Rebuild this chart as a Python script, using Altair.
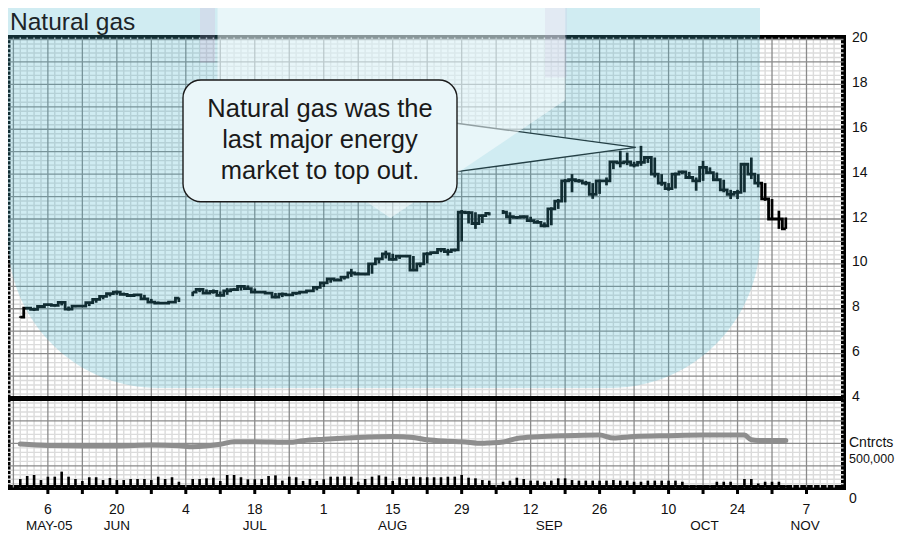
import altair as alt
import pandas as pd
import numpy as np

# ----------------------------- data -----------------------------
HOLIDAYS = ["2005-07-04", "2005-09-05"]
trade_dates = [d for d in pd.bdate_range("2005-05-31", "2005-11-02")
               if d.strftime("%Y-%m-%d") not in HOLIDAYS]

close = [
    7.63, 8.03, 7.97, 8.10,
    8.18, 8.15, 8.28, 7.98, 8.12,
    8.12, 8.27, 8.42, 8.55, 8.67,
    8.74, 8.64, 8.59, 8.62, 8.44,
    8.30, 8.25, 8.25, 8.30, 8.47,
    8.74, 8.86, 8.70, 8.77,
    8.60, 8.80, 8.85, 9.00, 8.90,
    8.74, 8.74, 8.70, 8.52, 8.65,
    8.62, 8.70, 8.74, 8.80, 8.95,
    9.15, 9.33, 9.28, 9.41, 9.60,
    9.55, 9.55, 10.00, 10.22, 10.45,
    10.20, 10.35, 10.35, 9.72, 10.00,
    10.45, 10.50, 10.65, 10.55, 10.62,
    12.30, 12.28, 11.80, 12.15, 12.25,
    12.30, 12.10, 12.07, 12.10,
    11.93, 11.85, 11.70, 12.45, 12.80,
    13.70, 13.75, 13.70, 13.60, 13.10,
    13.70, 13.70, 14.55, 14.50, 14.55,
    14.40, 14.52, 14.74, 14.00, 13.60,
    13.35, 14.00, 14.10, 13.85, 13.70,
    14.30, 14.07, 13.75, 13.30, 13.10,
    13.19, 14.44, 14.00, 13.60, 12.90,
    12.00, 12.00, 11.56,
]
low = [
    7.60, 7.98, 7.90, 8.05,
    8.13, 8.10, 8.15, 7.92, 8.07,
    8.08, 8.12, 8.27, 8.42, 8.55,
    8.62, 8.60, 8.55, 8.57, 8.40,
    8.26, 8.22, 8.22, 8.26, 8.30,
    8.56, 8.74, 8.67, 8.67,
    8.56, 8.62, 8.80, 8.81, 8.86,
    8.70, 8.70, 8.66, 8.47, 8.52,
    8.57, 8.62, 8.70, 8.76, 8.82,
    8.97, 9.16, 9.26, 9.30, 9.42,
    9.51, 9.50, 9.56, 10.02, 10.24,
    10.15, 10.22, 10.30, 9.70, 9.85,
    10.02, 10.44, 10.52, 10.37, 10.55,
    11.00, 11.80, 11.56, 11.82, 12.16,
    12.22, 11.78, 12.00, 12.02,
    11.86, 11.80, 11.63, 11.72, 12.45,
    12.74, 13.19, 13.62, 13.50, 12.90,
    13.12, 13.50, 14.22, 14.30, 14.40,
    14.30, 14.37, 14.50, 13.85, 13.48,
    13.26, 13.36, 14.00, 13.78, 13.26,
    13.70, 14.03, 13.70, 13.19, 12.89,
    12.89, 13.19, 13.78, 13.41, 12.81,
    12.00, 11.56, 11.56,
]
high = [
    7.66, 8.06, 8.05, 8.12,
    8.21, 8.20, 8.32, 8.10, 8.14,
    8.15, 8.28, 8.43, 8.56, 8.68,
    8.81, 8.72, 8.63, 8.64, 8.62,
    8.44, 8.32, 8.28, 8.32, 8.50,
    8.76, 8.88, 8.86, 8.86,
    8.77, 8.92, 8.92, 9.04, 9.04,
    8.90, 8.77, 8.74, 8.70, 8.72,
    8.66, 8.72, 8.76, 8.82, 8.97,
    9.16, 9.35, 9.35, 9.43, 9.78,
    9.62, 9.58, 10.02, 10.24, 10.59,
    10.45, 10.40, 10.40, 10.35, 10.05,
    10.52, 10.55, 10.67, 10.67, 10.67,
    12.40, 12.35, 12.30, 12.20, 12.30,
    12.40, 12.30, 12.12, 12.15,
    12.10, 11.95, 11.85, 12.52, 12.89,
    13.78, 14.00, 13.78, 13.70, 13.60,
    13.75, 13.85, 14.59, 15.04, 14.96,
    14.55, 15.26, 14.80, 14.74, 14.00,
    13.60, 14.07, 14.15, 14.10, 13.85,
    14.59, 14.30, 14.07, 13.75, 13.30,
    13.30, 14.44, 14.74, 14.00, 13.60,
    12.89, 12.37, 12.07,
]
# daily volume, thousands of contracts
volume_k = [
    94, 128, 139, 83,
    120, 120, 176, 120, 94,
    72, 114, 114, 83, 106,
    83, 83, 94, 94, 94,
    83, 120, 94, 114, 64,
    94, 94, 102, 109,
    72, 139, 139, 114, 91,
    91, 94, 128, 135, 76,
    120, 114, 72, 94, 72,
    91, 120, 120, 123, 120,
    64, 94, 120, 135, 120,
    72, 114, 94, 120, 114,
    114, 114, 114, 120, 120,
    139, 109, 102, 83, 76,
    64, 76, 109, 94,
    76, 76, 64, 76, 102,
    102, 83, 76, 76, 76,
    76, 76, 83, 76, 76,
    64, 64, 76, 76, 76,
    76, 76, 64, 25, 25,
    25, 25, 64, 64, 64,
    25, 94, 94, 45, 64,
    64, 64, 25,
]
# open interest, thousands of contracts
oi_dates = ["2005-05-31", "2005-06-06", "2005-06-13", "2005-06-20", "2005-06-27",
            "2005-07-01", "2005-07-05", "2005-07-11", "2005-07-13", "2005-07-18",
            "2005-07-25", "2005-07-27", "2005-08-01", "2005-08-08", "2005-08-15",
            "2005-08-18", "2005-08-22", "2005-08-25", "2005-08-29", "2005-09-01",
            "2005-09-02", "2005-09-06", "2005-09-08", "2005-09-13", "2005-09-19",
            "2005-09-26", "2005-09-28", "2005-10-03", "2005-10-10", "2005-10-17",
            "2005-10-24", "2005-10-25", "2005-10-26", "2005-10-27", "2005-11-02"]
oi_k = [483, 466, 461, 461, 472, 464, 453, 480, 509, 509,
        502, 520, 536, 556, 566, 556, 530, 515, 509, 491,
        495, 505, 545, 564, 576, 583, 550, 566, 576, 583,
        583, 583, 530, 522, 522]

price_ticks = [4, 6, 8, 10, 12, 14, 16, 18, 20]
week_dates = pd.date_range("2005-06-06", "2005-11-07", freq="7D")   # Monday ticks
month_labels = ["MAY-05", "JUN", "JUL", "AUG", "SEP", "OCT", "NOV"]
month_pos = [0.2, 10, 30, 50, 72.7, 95.2, 109.8]   # in trading-day slots
title_text = "Natural gas"
callout_text = "Natural gas was the\nlast major energy\nmarket to top out."

# callout tail: base on the bubble edge, tip at the early-October high (slot, price)
tail_s = [59.0, 85.24]
tail_top = [16.28, 15.19]
tail_bot = [14.10, 15.19]
# watermark arrow (slot, price)
arrow_s = [24.6, 49.67, 75.03]
arrow_top = [21.4, 21.4, 21.4]
arrow_bot = [17.30, 12.04, 17.30]

# ------------------------- helpers / layout -------------------------
BASE = pd.Timestamp("2005-06-06")


def slot(d):
    d = pd.Timestamp(d)
    return (d - BASE).days // 7 * 5 + d.weekday()


df = pd.DataFrame({"date": trade_dates, "close": close, "low": low,
                   "high": high, "vol": volume_k})
df["s"] = df["date"].map(slot)
df["seg"] = (df["date"] > pd.Timestamp(HOLIDAYS[0])).astype(int) + \
            (df["date"] > pd.Timestamp(HOLIDAYS[1])).astype(int)
df["date"] = df["date"].dt.strftime("%Y-%m-%d")

oi_df = pd.DataFrame({"s": [slot(d) for d in oi_dates], "oi": oi_k})

ticks_df = pd.DataFrame({"s": [slot(d) for d in week_dates],
                         "lbl": [str(d.day) if i % 2 == 0 else "" for i, d in enumerate(week_dates)]})

W, H = 835.5, 450
SANS = "Liberation Sans, Arial, sans-serif"

X_SCALE = alt.Scale(domain=[-5.057, 114.64], nice=False, zero=False)
Y_SCALE = alt.Scale(domain=[0.034, 20.089], nice=False, zero=False)
C_SCALE = alt.Scale(domain=[0, 5000], nice=False, zero=False)

Y_AXIS = alt.Axis(orient="right", values=price_ticks, domain=False, ticks=False,
                  tickSize=0, labelPadding=8, labelFont=SANS, labelFontSize=14,
                  labelColor="#111111", grid=False, title=None,
                  labelOverlap=False, labelFlush=False, labelOffset=-2)

light_v = [v for v in range(-5, 115) if v % 5 != 0]
dark_v = list(range(-5, 115, 5))
light_h = [round(v, 2) for v in np.arange(0.2, 20.05, 0.2) if abs(v - round(v)) > 1e-6]
dark_h = list(range(1, 21))


def X(field):
    return alt.X(field, scale=X_SCALE, axis=None)


def YP(field, axis=None):
    return alt.Y(field, scale=Y_SCALE, axis=axis)


# ----------------------------- layers -----------------------------
g_lv = alt.Chart(pd.DataFrame({"s": light_v})).mark_rule(
    color="#dbdbdb", strokeWidth=1.4).encode(x=X("s:Q"))
g_lh = alt.Chart(pd.DataFrame({"p": light_h})).mark_rule(
    color="#dbdbdb", strokeWidth=1.4).encode(y=YP("p:Q"))
g_dv = alt.Chart(pd.DataFrame({"s": dark_v})).mark_rule(
    color="#8a8a8a", strokeWidth=1.3).encode(x=X("s:Q"))
g_dh = alt.Chart(pd.DataFrame({"p": dark_h})).mark_rule(
    color="#8a8a8a", strokeWidth=1.3).encode(y=YP("p:Q"))

hl = alt.Chart(df).mark_rule(color="black", strokeWidth=2.7).encode(
    x=X("s:Q"), y=YP("low:Q", Y_AXIS), y2="high:Q")
cl = alt.Chart(df).mark_line(color="black", strokeWidth=2.8, interpolate="step").encode(
    x=X("s:Q"), y=YP("close:Q"), detail="seg:N")
sep = alt.Chart(pd.DataFrame({"p": [price_ticks[0]]})).mark_rule(
    color="black", strokeWidth=5).encode(y=YP("p:Q"))

vol = alt.Chart(df).mark_bar(color="black", size=2.6).encode(
    x=X("s:Q"), y=alt.Y("vol:Q", scale=C_SCALE, axis=None))
oi = alt.Chart(oi_df).mark_line(color="#8e8e8e", strokeWidth=5, interpolate="monotone",
                                strokeCap="round").encode(
    x=X("s:Q"), y=alt.Y("oi:Q", scale=C_SCALE, axis=None))

# bottom time axis: weekly ticks, fortnightly day labels
xticks = alt.Chart(ticks_df).mark_rule(color="black", strokeWidth=3).encode(
    x=X("s:Q"), y=alt.value(H), y2=alt.value(H + 6.5))
xlabels = alt.Chart(ticks_df).mark_text(
    align="center", baseline="alphabetic", font=SANS, fontSize=14, color="#111111").encode(
    x=X("s:Q"), y=alt.value(H + 26), text="lbl:N")

one = pd.DataFrame({"k": [0]})

# speech-bubble tail (under the watermark)
tail_df = pd.DataFrame({"s": tail_s, "top": tail_top, "bot": tail_bot})
tail = alt.Chart(tail_df).mark_area(color="white", opacity=1).encode(
    x=X("s:Q"), y=YP("top:Q"), y2="bot:Q")
edge_df = pd.DataFrame({"i": [0, 1, 2], "s": [tail_s[0], tail_s[1], tail_s[0]],
                        "p": [tail_top[0], tail_top[1], tail_bot[0]]})
tail_edge = alt.Chart(edge_df).mark_line(color="#1a1a1a", strokeWidth=1.4).encode(
    x=X("s:Q"), y=YP("p:Q"), order="i:Q")

# watermark
blue = alt.Chart(one).mark_rect(color="#45b2ca", opacity=0.25,
                                cornerRadiusBottomLeft=150, cornerRadiusBottomRight=150).encode(
    x=alt.value(0), x2=alt.value(752), y=alt.value(-29.5), y2=alt.value(350.5))
pent = alt.Chart(pd.DataFrame({"s": arrow_s, "top": arrow_top, "bot": arrow_bot})).mark_area(
    color="white", opacity=0.5).encode(
    x=X("s:Q"), y=YP("top:Q"), y2="bot:Q")
lav1 = alt.Chart(one).mark_rect(color="#d892c8", opacity=0.16).encode(
    x=alt.value(192), x2=alt.value(207), y=alt.value(-29.5), y2=alt.value(25))
lav2 = alt.Chart(one).mark_rect(color="#b89ad0", opacity=0.13).encode(
    x=alt.value(537), x2=alt.value(559), y=alt.value(-29.5), y2=alt.value(40))

box = alt.Chart(one).mark_rect(fill="#eaf6f9", stroke="#1a1a1a", strokeWidth=1.4,
                               cornerRadius=18).encode(
    x=alt.value(175), x2=alt.value(449), y=alt.value(42.5), y2=alt.value(164.2))
ctext = alt.Chart(pd.DataFrame({"t": [callout_text]})).mark_text(
    align="center", baseline="alphabetic", font=SANS, fontSize=25.5, lineHeight=31,
    lineBreak="\n", color="#1a1a1a").encode(
    x=alt.value(312), y=alt.value(79.2), text="t:N")
ttl = alt.Chart(pd.DataFrame({"t": [title_text]})).mark_text(
    align="left", baseline="alphabetic", font=SANS, fontSize=24.5, color="#1c2428").encode(
    x=alt.value(2), y=alt.value(-8), text="t:N")
side = alt.Chart(pd.DataFrame({"t": ["Cntrcts", "500,000", "0"],
                               "py": [409.2, 425.2, 465.7],
                               "fs": [14, 12.5, 14]})).mark_text(
    align="left", baseline="alphabetic", font=SANS, color="#111111").encode(
    x=alt.value(841), y=alt.Y("py:Q", scale=None, axis=None), text="t:N",
    size=alt.Size("fs:Q", scale=None, legend=None))
months = alt.Chart(pd.DataFrame({"m": month_labels, "s": month_pos})).mark_text(
    align="center", baseline="alphabetic", font=SANS, fontSize=13.5, color="#111111").encode(
    x=X("s:Q"), y=alt.value(492.5), text="m:N")

chart = alt.layer(
    g_lv, g_lh, g_dv, g_dh, hl, cl, sep, vol, oi, xticks, xlabels,
    tail, tail_edge, blue, pent, lav1, lav2, box, ctext, ttl, side, months
).resolve_scale(
    y="independent"
).properties(
    width=W, height=H,
    padding={"left": 0, "top": 29.5, "right": 51.5, "bottom": 47},
    autosize=alt.AutoSizeParams(type="none"),
    background="white",
).configure_view(stroke="black", strokeWidth=5)

chart.save("out.html", embed_options={"renderer": "svg", "actions": False})
